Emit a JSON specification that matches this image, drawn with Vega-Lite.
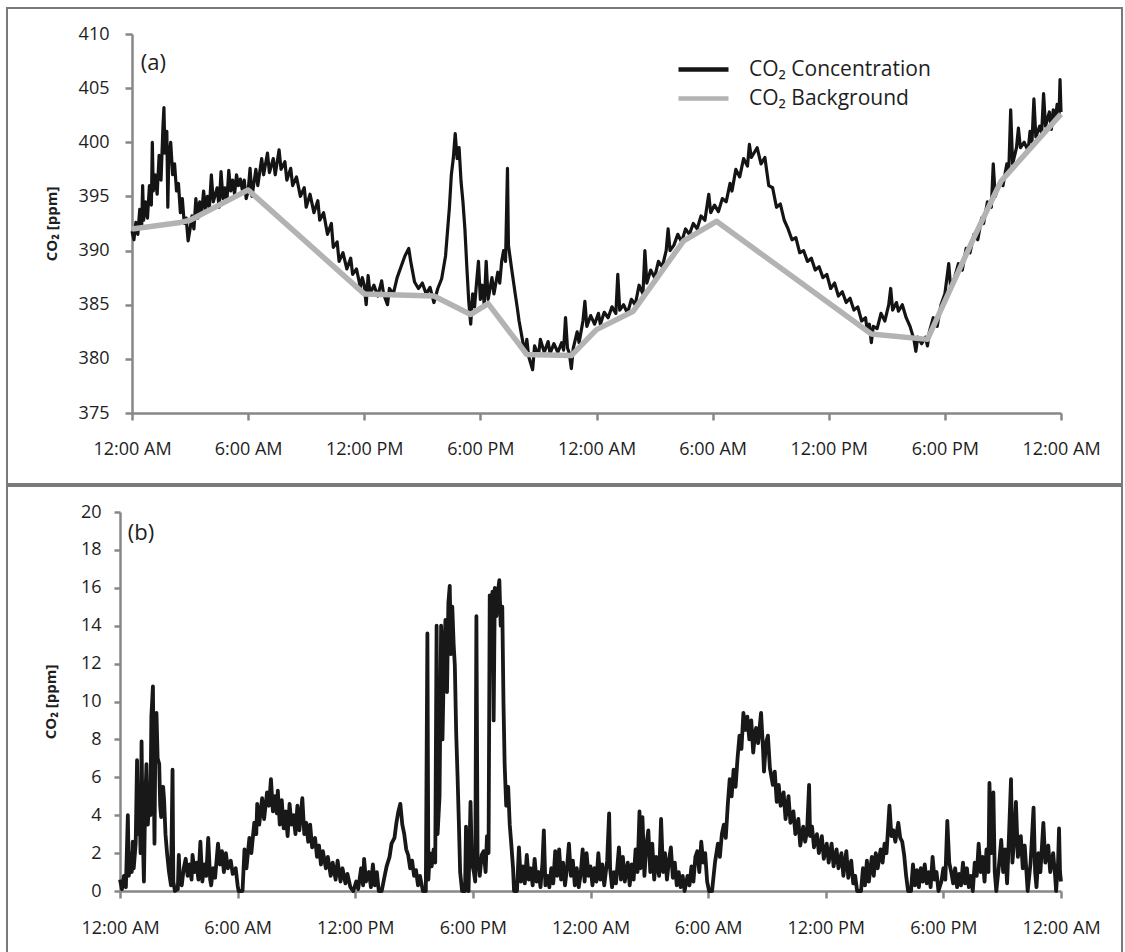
{
  "$schema": "https://vega.github.io/schema/vega-lite/v6.json",
  "padding": {"left": 6, "top": 7, "right": 0, "bottom": 0},
  "background": "white",
  "spacing": 0,
  "config": {
    "font": "Open Sans",
    "view": {"stroke": "#7a7a7a", "strokeWidth": 2},
    "axis": {"grid": false, "domainColor": "#878787", "domainWidth": 2.5, "tickColor": "#878787", "tickWidth": 2.5, "labelColor": "#1e1e1e", "labelFontSize": 18, "labelFont": "Open Sans", "titleFont": "Open Sans", "titleColor": "#1e1e1e", "labelFlush": false, "labelOverlap": false},
    "legend": {"padding": 0}
  },
  "datasets": {
    "conc": [
      {"h":0.0,"v":391.8},{"h":0.1,"v":391.0},{"h":0.2,"v":392.6},{"h":0.3,"v":391.5},{"h":0.4,"v":393.8},{"h":0.5,"v":392.2},{"h":0.55,"v":396.0},{"h":0.6,"v":392.8},{"h":0.7,"v":394.5},{"h":0.8,"v":393.0},{"h":0.9,"v":396.0},{"h":1.0,"v":394.2},{"h":1.05,"v":400.0},{"h":1.1,"v":395.5},{"h":1.2,"v":397.0},{"h":1.3,"v":395.2},{"h":1.4,"v":398.8},{"h":1.5,"v":396.5},{"h":1.6,"v":401.5},{"h":1.65,"v":403.2},{"h":1.7,"v":399.0},{"h":1.8,"v":401.0},{"h":1.85,"v":394.0},{"h":1.9,"v":398.5},{"h":2.0,"v":400.0},{"h":2.1,"v":397.0},{"h":2.2,"v":398.0},{"h":2.3,"v":395.5},{"h":2.4,"v":396.2},{"h":2.5,"v":393.5},{"h":2.6,"v":394.8},{"h":2.7,"v":392.5},{"h":2.8,"v":393.0},{"h":2.9,"v":390.9},{"h":3.0,"v":392.0},{"h":3.1,"v":393.2},{"h":3.2,"v":392.0},{"h":3.3,"v":394.8},{"h":3.4,"v":393.0},{"h":3.5,"v":394.5},{"h":3.6,"v":393.5},{"h":3.7,"v":395.5},{"h":3.8,"v":393.8},{"h":3.9,"v":395.0},{"h":4.0,"v":394.0},{"h":4.1,"v":397.0},{"h":4.2,"v":394.5},{"h":4.4,"v":395.8},{"h":4.5,"v":394.0},{"h":4.6,"v":397.3},{"h":4.7,"v":394.8},{"h":4.8,"v":395.8},{"h":4.9,"v":394.5},{"h":5.0,"v":397.4},{"h":5.1,"v":395.5},{"h":5.2,"v":396.5},{"h":5.3,"v":395.2},{"h":5.4,"v":397.0},{"h":5.5,"v":396.0},{"h":5.6,"v":396.6},{"h":5.7,"v":395.6},{"h":5.8,"v":396.5},{"h":5.9,"v":394.8},
      {"h":6.0,"v":395.5},{"h":6.1,"v":397.6},{"h":6.2,"v":395.0},{"h":6.4,"v":397.5},{"h":6.5,"v":396.0},{"h":6.7,"v":398.5},{"h":6.8,"v":397.0},{"h":7.0,"v":399.0},{"h":7.1,"v":397.2},{"h":7.3,"v":398.5},{"h":7.4,"v":397.0},{"h":7.6,"v":399.3},{"h":7.7,"v":397.5},{"h":7.9,"v":398.2},{"h":8.0,"v":396.5},{"h":8.2,"v":397.6},{"h":8.3,"v":396.0},{"h":8.5,"v":396.8},{"h":8.7,"v":395.0},{"h":8.9,"v":395.8},{"h":9.0,"v":394.0},{"h":9.2,"v":395.2},{"h":9.4,"v":393.5},{"h":9.6,"v":394.6},{"h":9.7,"v":392.8},{"h":9.9,"v":393.5},{"h":10.1,"v":391.5},{"h":10.3,"v":392.5},{"h":10.4,"v":390.3},{"h":10.6,"v":390.8},{"h":10.7,"v":389.0},{"h":10.9,"v":389.8},{"h":11.1,"v":388.3},{"h":11.3,"v":389.3},{"h":11.4,"v":387.8},{"h":11.6,"v":388.3},{"h":11.8,"v":386.6},{"h":11.9,"v":387.5},
      {"h":12.0,"v":386.8},{"h":12.1,"v":385.0},{"h":12.2,"v":387.7},{"h":12.3,"v":386.0},{"h":12.5,"v":386.8},{"h":12.7,"v":385.8},{"h":12.9,"v":387.2},{"h":13.0,"v":386.0},{"h":13.2,"v":385.0},{"h":13.3,"v":386.5},{"h":13.5,"v":386.0},{"h":13.7,"v":387.5},{"h":13.9,"v":388.5},{"h":14.1,"v":389.5},{"h":14.3,"v":390.2},{"h":14.4,"v":389.0},{"h":14.6,"v":387.1},{"h":14.8,"v":386.5},{"h":15.0,"v":387.0},{"h":15.2,"v":386.0},{"h":15.4,"v":386.6},{"h":15.6,"v":385.2},{"h":15.8,"v":386.5},{"h":16.0,"v":387.4},{"h":16.2,"v":389.5},{"h":16.4,"v":394.0},{"h":16.5,"v":397.0},{"h":16.6,"v":398.5},{"h":16.7,"v":400.8},{"h":16.8,"v":398.5},{"h":16.9,"v":399.5},{"h":17.0,"v":396.4},{"h":17.1,"v":394.5},{"h":17.2,"v":392.0},{"h":17.3,"v":388.5},{"h":17.4,"v":385.3},{"h":17.5,"v":383.2},{"h":17.6,"v":386.0},{"h":17.7,"v":384.8},{"h":17.8,"v":387.0},{"h":17.9,"v":389.0},{"h":18.0,"v":385.5},{"h":18.1,"v":386.8},{"h":18.2,"v":385.0},{"h":18.3,"v":389.0},{"h":18.4,"v":385.5},{"h":18.6,"v":387.5},{"h":18.7,"v":386.0},{"h":18.9,"v":388.0},{"h":19.0,"v":387.0},{"h":19.1,"v":389.0},{"h":19.2,"v":390.0},{"h":19.3,"v":389.0},{"h":19.4,"v":397.6},{"h":19.45,"v":390.5},{"h":19.6,"v":388.5},{"h":19.8,"v":386.0},{"h":19.9,"v":384.8},
      {"h":20.0,"v":383.5},{"h":20.2,"v":381.5},{"h":20.3,"v":380.5},{"h":20.4,"v":381.8},{"h":20.5,"v":380.2},{"h":20.7,"v":379.0},{"h":20.8,"v":381.2},{"h":21.0,"v":380.3},{"h":21.1,"v":381.8},{"h":21.3,"v":380.6},{"h":21.5,"v":381.6},{"h":21.6,"v":380.5},{"h":21.8,"v":381.4},{"h":22.0,"v":380.6},{"h":22.2,"v":381.5},{"h":22.3,"v":380.8},{"h":22.4,"v":383.8},{"h":22.5,"v":381.0},{"h":22.6,"v":380.5},{"h":22.7,"v":379.1},{"h":22.8,"v":381.0},{"h":23.0,"v":382.5},{"h":23.1,"v":381.5},{"h":23.3,"v":383.5},{"h":23.4,"v":385.3},{"h":23.5,"v":383.0},{"h":23.7,"v":384.0},{"h":23.9,"v":383.2},
      {"h":24.1,"v":384.2},{"h":24.2,"v":383.2},{"h":24.4,"v":384.3},{"h":24.6,"v":383.8},{"h":24.8,"v":384.8},{"h":25.0,"v":384.2},{"h":25.1,"v":387.8},{"h":25.2,"v":384.5},{"h":25.4,"v":385.0},{"h":25.6,"v":384.2},{"h":25.8,"v":385.5},{"h":26.0,"v":385.0},{"h":26.2,"v":386.8},{"h":26.4,"v":386.0},{"h":26.5,"v":390.0},{"h":26.6,"v":387.0},{"h":26.8,"v":388.2},{"h":27.0,"v":387.5},{"h":27.2,"v":389.0},{"h":27.4,"v":388.5},{"h":27.6,"v":390.0},{"h":27.7,"v":392.0},{"h":27.8,"v":390.0},{"h":28.0,"v":390.5},{"h":28.2,"v":391.5},{"h":28.4,"v":390.8},{"h":28.6,"v":392.0},{"h":28.8,"v":391.5},{"h":29.0,"v":392.5},{"h":29.2,"v":392.0},{"h":29.4,"v":393.2},{"h":29.6,"v":392.8},{"h":29.8,"v":395.2},{"h":29.9,"v":393.5},{"h":30.1,"v":394.2},{"h":30.3,"v":393.6},{"h":30.5,"v":394.8},{"h":30.7,"v":394.5},{"h":30.9,"v":396.2},{"h":31.0,"v":395.5},{"h":31.2,"v":397.5},{"h":31.4,"v":396.8},{"h":31.6,"v":398.5},{"h":31.8,"v":397.8},{"h":31.9,"v":399.8},
      {"h":32.0,"v":398.6},{"h":32.3,"v":399.5},{"h":32.5,"v":398.0},{"h":32.7,"v":398.6},{"h":32.9,"v":396.0},{"h":33.1,"v":395.8},{"h":33.3,"v":394.0},{"h":33.5,"v":394.3},{"h":33.7,"v":392.8},{"h":33.9,"v":392.0},{"h":34.1,"v":391.0},{"h":34.3,"v":391.2},{"h":34.5,"v":389.8},{"h":34.7,"v":390.0},{"h":34.9,"v":389.0},{"h":35.1,"v":389.3},{"h":35.3,"v":388.2},{"h":35.5,"v":388.5},{"h":35.7,"v":387.5},{"h":35.9,"v":387.8},{"h":36.1,"v":386.5},{"h":36.3,"v":387.0},{"h":36.5,"v":385.8},{"h":36.7,"v":386.2},{"h":36.9,"v":385.2},{"h":37.1,"v":385.6},{"h":37.3,"v":384.5},{"h":37.5,"v":384.8},{"h":37.7,"v":383.5},{"h":37.9,"v":383.8},{"h":38.0,"v":382.5},{"h":38.1,"v":383.2},{"h":38.2,"v":381.5},{"h":38.3,"v":383.0},{"h":38.5,"v":382.8},{"h":38.7,"v":384.2},{"h":38.9,"v":383.5},{"h":39.1,"v":385.0},{"h":39.2,"v":386.5},{"h":39.3,"v":384.5},{"h":39.5,"v":385.2},{"h":39.6,"v":384.4},{"h":39.8,"v":385.0},{"h":40.0,"v":383.8},{"h":40.2,"v":383.0},{"h":40.4,"v":381.8},{"h":40.5,"v":380.7},{"h":40.6,"v":382.0},{"h":40.8,"v":381.4},{"h":41.0,"v":382.0},{"h":41.1,"v":381.2},{"h":41.2,"v":382.5},{"h":41.4,"v":383.8},{"h":41.6,"v":383.0},{"h":41.8,"v":385.0},
      {"h":42.0,"v":386.0},{"h":42.2,"v":388.8},{"h":42.3,"v":386.5},{"h":42.5,"v":387.5},{"h":42.7,"v":388.8},{"h":42.9,"v":388.2},{"h":43.1,"v":390.2},{"h":43.3,"v":389.8},{"h":43.5,"v":391.5},{"h":43.7,"v":391.0},{"h":43.9,"v":393.0},{"h":44.0,"v":392.5},{"h":44.2,"v":394.5},{"h":44.4,"v":394.0},{"h":44.5,"v":398.0},{"h":44.6,"v":395.0},{"h":44.8,"v":396.2},{"h":45.0,"v":396.0},{"h":45.2,"v":398.0},{"h":45.3,"v":397.2},{"h":45.4,"v":403.0},{"h":45.5,"v":398.0},{"h":45.7,"v":399.5},{"h":45.8,"v":401.3},{"h":45.9,"v":399.5},{"h":46.1,"v":400.0},{"h":46.3,"v":399.2},{"h":46.4,"v":401.0},{"h":46.5,"v":400.0},{"h":46.6,"v":404.0},{"h":46.7,"v":400.5},{"h":46.9,"v":401.5},{"h":47.0,"v":400.8},{"h":47.1,"v":404.5},{"h":47.2,"v":401.5},{"h":47.4,"v":402.8},{"h":47.5,"v":401.2},{"h":47.6,"v":403.0},{"h":47.7,"v":402.0},{"h":47.8,"v":403.5},{"h":47.9,"v":402.5},{"h":47.95,"v":405.8},{"h":48.0,"v":402.8}
    ],
    "bg": [
      {"h":0,"v":392.0},{"h":2.5,"v":392.6},{"h":3.0,"v":392.8},{"h":6.0,"v":395.6},{"h":12.0,"v":386.0},{"h":15.6,"v":385.8},{"h":17.5,"v":384.1},{"h":18.4,"v":385.1},{"h":20.4,"v":380.4},{"h":22.7,"v":380.3},{"h":24.0,"v":382.7},{"h":25.9,"v":384.4},{"h":28.5,"v":390.9},{"h":30.2,"v":392.7},{"h":38.2,"v":382.3},{"h":41.1,"v":381.8},{"h":43.5,"v":391.2},{"h":44.9,"v":396.4},{"h":48.0,"v":402.6}
    ],
    "diff": [
      {"h":0.0,"v":0.6},{"h":0.1,"v":0.1},{"h":0.2,"v":0.8},{"h":0.3,"v":0.2},{"h":0.4,"v":4.0},{"h":0.45,"v":0.8},{"h":0.55,"v":2.0},{"h":0.6,"v":1.0},{"h":0.65,"v":2.6},{"h":0.7,"v":1.2},{"h":0.8,"v":2.5},{"h":0.87,"v":6.9},{"h":0.92,"v":3.0},{"h":1.0,"v":4.2},{"h":1.05,"v":2.0},{"h":1.1,"v":7.9},{"h":1.15,"v":3.5},{"h":1.22,"v":0.5},{"h":1.28,"v":4.5},{"h":1.35,"v":6.7},{"h":1.42,"v":3.5},{"h":1.5,"v":5.0},{"h":1.55,"v":4.0},{"h":1.6,"v":9.2},{"h":1.68,"v":10.8},{"h":1.72,"v":6.0},{"h":1.76,"v":2.5},{"h":1.8,"v":7.5},{"h":1.86,"v":9.4},{"h":1.92,"v":7.0},{"h":2.0,"v":6.7},{"h":2.05,"v":4.5},{"h":2.1,"v":3.9},{"h":2.2,"v":5.5},{"h":2.25,"v":4.8},{"h":2.32,"v":3.0},{"h":2.4,"v":2.0},{"h":2.5,"v":1.0},{"h":2.6,"v":0.3},{"h":2.68,"v":6.4},{"h":2.72,"v":0.5},{"h":2.8,"v":0.0},{"h":2.95,"v":0.1},{"h":3.0,"v":1.9},{"h":3.05,"v":0.5},{"h":3.15,"v":0.3},{"h":3.25,"v":1.2},{"h":3.35,"v":1.7},{"h":3.45,"v":0.8},{"h":3.55,"v":1.4},{"h":3.65,"v":0.6},{"h":3.7,"v":1.9},{"h":3.8,"v":1.0},{"h":3.9,"v":1.5},{"h":4.0,"v":0.6},{"h":4.1,"v":2.6},{"h":4.2,"v":0.5},{"h":4.3,"v":1.4},{"h":4.4,"v":0.8},{"h":4.5,"v":2.8},{"h":4.6,"v":0.6},{"h":4.65,"v":0.3},{"h":4.75,"v":1.2},{"h":4.85,"v":0.7},{"h":5.0,"v":2.5},{"h":5.1,"v":1.4},{"h":5.2,"v":2.1},{"h":5.3,"v":1.0},{"h":5.4,"v":2.0},{"h":5.5,"v":1.2},{"h":5.65,"v":1.6},{"h":5.75,"v":0.9},{"h":5.9,"v":1.2},{"h":6.0,"v":0.3},{"h":6.05,"v":0.0},{"h":6.25,"v":0.0},{"h":6.35,"v":2.2},{"h":6.45,"v":1.2},{"h":6.6,"v":2.8},{"h":6.7,"v":2.0},{"h":6.85,"v":3.6},{"h":6.95,"v":3.0},{"h":7.0,"v":4.6},{"h":7.1,"v":3.5},{"h":7.25,"v":4.9},{"h":7.35,"v":3.8},{"h":7.5,"v":5.2},{"h":7.6,"v":4.5},{"h":7.7,"v":5.9},{"h":7.8,"v":4.2},{"h":7.9,"v":5.0},{"h":8.0,"v":4.1},{"h":8.05,"v":5.3},{"h":8.15,"v":3.5},{"h":8.25,"v":4.8},{"h":8.35,"v":3.3},{"h":8.45,"v":4.2},{"h":8.55,"v":2.9},{"h":8.65,"v":4.6},{"h":8.75,"v":3.5},{"h":8.85,"v":4.0},{"h":8.95,"v":3.0},{"h":9.05,"v":4.5},{"h":9.15,"v":3.2},{"h":9.3,"v":4.9},{"h":9.4,"v":3.0},{"h":9.5,"v":3.6},{"h":9.6,"v":2.6},{"h":9.7,"v":3.5},{"h":9.8,"v":2.3},{"h":9.95,"v":2.8},{"h":10.05,"v":1.8},{"h":10.15,"v":2.4},{"h":10.25,"v":1.4},{"h":10.35,"v":2.1},{"h":10.5,"v":1.2},{"h":10.6,"v":1.8},{"h":10.75,"v":0.8},{"h":10.85,"v":1.5},{"h":11.0,"v":0.6},{"h":11.1,"v":1.6},{"h":11.25,"v":0.5},{"h":11.35,"v":1.2},{"h":11.5,"v":0.4},{"h":11.6,"v":0.9},{"h":11.75,"v":0.2},{"h":11.9,"v":0.0},
      {"h":12.05,"v":0.5},{"h":12.15,"v":0.1},{"h":12.3,"v":1.2},{"h":12.4,"v":0.3},{"h":12.45,"v":1.7},{"h":12.55,"v":0.5},{"h":12.7,"v":1.0},{"h":12.8,"v":0.2},{"h":12.9,"v":1.4},{"h":13.0,"v":0.3},{"h":13.1,"v":1.0},{"h":13.2,"v":0.0},{"h":13.35,"v":0.0},{"h":13.5,"v":0.8},{"h":13.6,"v":1.3},{"h":13.75,"v":1.8},{"h":13.85,"v":2.5},{"h":14.0,"v":2.8},{"h":14.1,"v":3.6},{"h":14.2,"v":4.2},{"h":14.3,"v":4.6},{"h":14.4,"v":3.5},{"h":14.5,"v":3.0},{"h":14.6,"v":2.2},{"h":14.7,"v":1.9},{"h":14.8,"v":1.2},{"h":14.9,"v":1.6},{"h":15.0,"v":0.8},{"h":15.1,"v":1.1},{"h":15.2,"v":0.3},{"h":15.3,"v":0.8},{"h":15.45,"v":0.0},{"h":15.6,"v":0.0},{"h":15.68,"v":13.6},{"h":15.73,"v":0.6},{"h":15.8,"v":2.0},{"h":15.9,"v":1.3},{"h":16.0,"v":2.2},{"h":16.08,"v":1.5},{"h":16.15,"v":14.0},{"h":16.2,"v":3.0},{"h":16.3,"v":5.0},{"h":16.38,"v":14.0},{"h":16.45,"v":8.0},{"h":16.52,"v":12.0},{"h":16.6,"v":14.3},{"h":16.68,"v":10.5},{"h":16.75,"v":15.2},{"h":16.82,"v":16.1},{"h":16.88,"v":12.5},{"h":16.95,"v":15.0},{"h":17.02,"v":13.0},{"h":17.08,"v":11.9},{"h":17.15,"v":8.3},{"h":17.22,"v":6.0},{"h":17.28,"v":3.8},{"h":17.35,"v":1.0},{"h":17.45,"v":0.0},{"h":17.6,"v":0.0},{"h":17.65,"v":3.4},{"h":17.7,"v":0.2},{"h":17.78,"v":0.0},{"h":17.88,"v":4.7},{"h":17.95,"v":1.5},{"h":18.05,"v":1.0},{"h":18.12,"v":0.5},{"h":18.18,"v":14.5},{"h":18.24,"v":1.8},{"h":18.35,"v":0.8},{"h":18.45,"v":1.9},{"h":18.55,"v":2.1},{"h":18.65,"v":1.0},{"h":18.72,"v":2.9},{"h":18.8,"v":2.0},{"h":18.86,"v":15.6},{"h":18.92,"v":13.0},{"h":19.0,"v":15.8},{"h":19.06,"v":9.0},{"h":19.12,"v":16.0},{"h":19.2,"v":14.5},{"h":19.28,"v":15.8},{"h":19.35,"v":16.4},{"h":19.42,"v":14.0},{"h":19.5,"v":15.0},{"h":19.56,"v":10.0},{"h":19.62,"v":6.7},{"h":19.7,"v":4.5},{"h":19.8,"v":5.5},{"h":19.88,"v":3.5},{"h":19.95,"v":2.6},{"h":20.05,"v":1.2},{"h":20.1,"v":0.0},{"h":20.25,"v":0.0},{"h":20.35,"v":2.3},{"h":20.45,"v":0.5},{"h":20.55,"v":1.3},{"h":20.65,"v":0.4},{"h":20.75,"v":1.9},{"h":20.85,"v":0.6},{"h":20.95,"v":1.2},{"h":21.05,"v":0.3},{"h":21.15,"v":1.7},{"h":21.25,"v":0.5},{"h":21.35,"v":1.0},{"h":21.45,"v":0.2},{"h":21.55,"v":1.5},{"h":21.62,"v":3.2},{"h":21.7,"v":0.3},{"h":21.8,"v":0.8},{"h":21.9,"v":0.2},{"h":22.0,"v":1.2},{"h":22.1,"v":0.4},{"h":22.2,"v":2.1},{"h":22.3,"v":0.8},{"h":22.4,"v":2.2},{"h":22.5,"v":0.6},{"h":22.6,"v":1.5},{"h":22.7,"v":0.3},{"h":22.8,"v":1.2},{"h":22.9,"v":2.5},{"h":23.0,"v":0.8},{"h":23.1,"v":1.6},{"h":23.2,"v":0.3},{"h":23.3,"v":1.2},{"h":23.4,"v":0.2},{"h":23.5,"v":0.9},{"h":23.6,"v":2.2},{"h":23.7,"v":0.5},{"h":23.8,"v":2.0},{"h":23.9,"v":0.8},
      {"h":24.0,"v":1.3},{"h":24.1,"v":0.3},{"h":24.2,"v":1.2},{"h":24.3,"v":0.5},{"h":24.4,"v":2.0},{"h":24.5,"v":0.6},{"h":24.6,"v":1.4},{"h":24.7,"v":0.3},{"h":24.85,"v":1.6},{"h":24.95,"v":4.1},{"h":25.0,"v":1.2},{"h":25.1,"v":0.2},{"h":25.2,"v":1.0},{"h":25.3,"v":0.4},{"h":25.45,"v":2.3},{"h":25.55,"v":0.6},{"h":25.65,"v":1.8},{"h":25.75,"v":0.5},{"h":25.9,"v":1.5},{"h":26.0,"v":0.3},{"h":26.1,"v":1.4},{"h":26.2,"v":0.6},{"h":26.3,"v":2.2},{"h":26.4,"v":1.0},{"h":26.5,"v":4.2},{"h":26.55,"v":1.2},{"h":26.65,"v":3.9},{"h":26.75,"v":0.8},{"h":26.85,"v":2.4},{"h":26.95,"v":3.2},{"h":27.05,"v":1.0},{"h":27.15,"v":2.5},{"h":27.25,"v":0.6},{"h":27.35,"v":1.8},{"h":27.5,"v":0.8},{"h":27.6,"v":3.8},{"h":27.7,"v":1.0},{"h":27.8,"v":2.0},{"h":27.9,"v":0.6},{"h":28.0,"v":1.6},{"h":28.1,"v":2.3},{"h":28.2,"v":0.7},{"h":28.3,"v":1.5},{"h":28.4,"v":0.3},{"h":28.5,"v":1.0},{"h":28.6,"v":0.2},{"h":28.7,"v":0.8},{"h":28.8,"v":0.0},{"h":28.95,"v":0.8},{"h":29.05,"v":0.3},{"h":29.15,"v":1.3},{"h":29.25,"v":0.5},{"h":29.35,"v":1.8},{"h":29.45,"v":2.1},{"h":29.55,"v":1.0},{"h":29.65,"v":2.6},{"h":29.75,"v":1.5},{"h":29.85,"v":2.0},{"h":29.95,"v":0.5},{"h":30.05,"v":0.0},{"h":30.2,"v":0.0},{"h":30.35,"v":1.5},{"h":30.5,"v":2.5},{"h":30.6,"v":1.8},{"h":30.7,"v":3.0},{"h":30.8,"v":3.5},{"h":30.9,"v":2.8},{"h":31.0,"v":4.5},{"h":31.1,"v":5.9},{"h":31.2,"v":5.0},{"h":31.3,"v":6.4},{"h":31.4,"v":5.5},{"h":31.5,"v":7.0},{"h":31.6,"v":8.2},{"h":31.7,"v":7.5},{"h":31.8,"v":9.4},{"h":31.9,"v":8.5},{"h":32.0,"v":9.2},{"h":32.1,"v":8.0},{"h":32.2,"v":9.0},{"h":32.3,"v":7.3},{"h":32.4,"v":8.4},{"h":32.45,"v":8.6},{"h":32.55,"v":7.8},{"h":32.7,"v":9.4},{"h":32.8,"v":7.5},{"h":32.85,"v":6.3},{"h":32.95,"v":7.8},{"h":33.05,"v":8.2},{"h":33.15,"v":6.5},{"h":33.3,"v":5.6},{"h":33.4,"v":6.3},{"h":33.5,"v":4.7},{"h":33.6,"v":5.6},{"h":33.7,"v":4.5},{"h":33.85,"v":5.2},{"h":33.95,"v":3.8},{"h":34.1,"v":5.0},{"h":34.2,"v":3.6},{"h":34.35,"v":4.2},{"h":34.45,"v":3.0},{"h":34.6,"v":3.8},{"h":34.7,"v":2.4},{"h":34.85,"v":3.4},{"h":34.95,"v":2.6},{"h":35.05,"v":3.2},{"h":35.15,"v":5.6},{"h":35.2,"v":2.9},{"h":35.3,"v":3.4},{"h":35.4,"v":2.3},{"h":35.55,"v":3.0},{"h":35.65,"v":2.0},{"h":35.8,"v":2.9},{"h":35.9,"v":1.7},
      {"h":36.05,"v":2.5},{"h":36.15,"v":1.5},{"h":36.3,"v":2.5},{"h":36.4,"v":1.3},{"h":36.55,"v":2.2},{"h":36.65,"v":1.2},{"h":36.8,"v":2.0},{"h":36.9,"v":0.8},{"h":37.05,"v":2.1},{"h":37.15,"v":0.7},{"h":37.3,"v":1.6},{"h":37.4,"v":0.4},{"h":37.5,"v":0.8},{"h":37.6,"v":0.0},{"h":37.8,"v":0.0},{"h":37.9,"v":1.2},{"h":38.0,"v":0.3},{"h":38.1,"v":1.6},{"h":38.2,"v":0.5},{"h":38.35,"v":1.8},{"h":38.45,"v":0.8},{"h":38.55,"v":2.0},{"h":38.65,"v":1.2},{"h":38.8,"v":2.2},{"h":38.9,"v":1.5},{"h":39.0,"v":2.5},{"h":39.1,"v":2.0},{"h":39.25,"v":4.5},{"h":39.35,"v":2.9},{"h":39.45,"v":3.2},{"h":39.55,"v":2.6},{"h":39.7,"v":3.6},{"h":39.8,"v":2.8},{"h":39.9,"v":2.6},{"h":40.0,"v":1.9},{"h":40.1,"v":0.8},{"h":40.2,"v":0.0},{"h":40.35,"v":0.0},{"h":40.45,"v":1.4},{"h":40.55,"v":0.3},{"h":40.65,"v":1.1},{"h":40.75,"v":0.2},{"h":40.85,"v":1.2},{"h":40.95,"v":0.5},{"h":41.05,"v":1.4},{"h":41.15,"v":0.4},{"h":41.25,"v":1.0},{"h":41.35,"v":0.2},{"h":41.45,"v":1.8},{"h":41.55,"v":0.6},{"h":41.65,"v":1.0},{"h":41.75,"v":0.0},{"h":41.9,"v":0.5},{"h":42.0,"v":1.2},{"h":42.1,"v":0.6},{"h":42.2,"v":3.7},{"h":42.3,"v":1.5},{"h":42.4,"v":1.0},{"h":42.5,"v":0.4},{"h":42.6,"v":1.2},{"h":42.7,"v":0.2},{"h":42.8,"v":0.9},{"h":42.9,"v":0.3},{"h":43.0,"v":1.5},{"h":43.1,"v":0.4},{"h":43.2,"v":1.2},{"h":43.3,"v":0.2},{"h":43.4,"v":0.8},{"h":43.5,"v":0.0},{"h":43.6,"v":1.5},{"h":43.7,"v":0.8},{"h":43.8,"v":2.5},{"h":43.9,"v":1.0},{"h":44.0,"v":1.8},{"h":44.1,"v":0.5},{"h":44.2,"v":2.2},{"h":44.3,"v":1.0},{"h":44.35,"v":5.7},{"h":44.45,"v":2.0},{"h":44.55,"v":5.2},{"h":44.62,"v":1.0},{"h":44.7,"v":0.0},{"h":44.85,"v":1.5},{"h":44.95,"v":2.7},{"h":45.05,"v":1.0},{"h":45.15,"v":2.2},{"h":45.25,"v":0.4},{"h":45.35,"v":3.0},{"h":45.45,"v":5.9},{"h":45.52,"v":1.5},{"h":45.6,"v":2.5},{"h":45.7,"v":4.7},{"h":45.8,"v":1.8},{"h":45.95,"v":2.9},{"h":46.05,"v":1.2},{"h":46.15,"v":2.4},{"h":46.3,"v":0.0},{"h":46.45,"v":1.5},{"h":46.6,"v":4.4},{"h":46.68,"v":1.0},{"h":46.75,"v":0.2},{"h":46.85,"v":2.0},{"h":46.95,"v":1.0},{"h":47.1,"v":3.6},{"h":47.2,"v":1.5},{"h":47.35,"v":2.4},{"h":47.45,"v":1.0},{"h":47.6,"v":2.0},{"h":47.7,"v":0.8},{"h":47.75,"v":0.0},{"h":47.85,"v":1.5},{"h":47.9,"v":3.3},{"h":47.95,"v":1.0},{"h":48.0,"v":0.5}
    ]
  },
  "vconcat": [
    {
      "width": 1115,
      "height": 476,
      "encoding": {
        "x": {"field": "h", "type": "quantitative", "scale": {"domain": [0, 48], "range": [125, 1054], "nice": false},
          "axis": {"values": [0, 6, 12, 18, 24, 30, 36, 42, 48], "labelExpr": "['12:00 AM','6:00 AM','12:00 PM','6:00 PM'][(datum.value / 6) % 4]", "offset": -71, "tickSize": 7, "labelPadding": 20, "title": null}},
        "y": {"field": "v", "type": "quantitative", "scale": {"domain": [375, 410], "range": [405, 26], "zero": false, "nice": false},
          "axis": {"values": [375, 380, 385, 390, 395, 400, 405, 410], "offset": -125, "tickSize": 7, "labelPadding": 16, "title": "CO₂ [ppm]", "titleFontSize": 15, "titleFontWeight": "bold", "titlePadding": 19}}
      },
      "layer": [
        {
          "data": {"name": "conc"},
          "mark": {"type": "line", "strokeWidth": 3.2, "strokeJoin": "round"},
          "encoding": {
            "color": {"datum": "CO₂ Concentration", "type": "nominal",
              "scale": {"domain": ["CO₂ Concentration", "CO₂ Background"], "range": ["#141414", "#b3b3b3"]},
              "legend": {"orient": "none", "legendX": 669, "legendY": 47, "title": null, "symbolType": "stroke", "symbolSize": 2500, "symbolStrokeWidth": 4.5, "labelFontSize": 21, "labelColor": "#1e1e1e", "labelOffset": 18, "labelLimit": 400, "clipHeight": 29, "rowPadding": 0}}
          }
        },
        {
          "data": {"name": "bg"},
          "mark": {"type": "line", "strokeWidth": 5.5, "strokeJoin": "round"},
          "encoding": {
            "color": {"datum": "CO₂ Background", "type": "nominal"}
          }
        },
        {
          "data": {"values": [{"h": 0.45, "v": 407.3, "t": "(a)"}]},
          "mark": {"type": "text", "align": "left", "baseline": "middle", "fontSize": 22, "color": "#1e1e1e"},
          "encoding": {"text": {"field": "t"}}
        }
      ]
    },
    {
      "width": 1115,
      "height": 467,
      "encoding": {
        "x": {"field": "h", "type": "quantitative", "scale": {"domain": [0, 48], "range": [113, 1054], "nice": false},
          "axis": {"values": [0, 6, 12, 18, 24, 30, 36, 42, 48], "labelExpr": "['12:00 AM','6:00 AM','12:00 PM','6:00 PM'][(datum.value / 6) % 4]", "offset": -62, "tickSize": 7, "labelPadding": 21, "title": null}},
        "y": {"field": "v", "type": "quantitative", "scale": {"domain": [0, 20], "range": [405, 26], "nice": false},
          "axis": {"values": [0, 2, 4, 6, 8, 10, 12, 14, 16, 18, 20], "offset": -113, "tickSize": 6, "labelPadding": 13, "title": "CO₂ [ppm]", "titleFontSize": 15, "titleFontWeight": "bold", "titlePadding": 22}}
      },
      "layer": [
        {
          "data": {"name": "diff"},
          "mark": {"type": "line", "strokeWidth": 3.8, "strokeJoin": "round", "color": "#181818"}
        },
        {
          "data": {"values": [{"h": 0.4, "v": 18.9, "t": "(b)"}]},
          "mark": {"type": "text", "align": "left", "baseline": "middle", "fontSize": 22, "color": "#1e1e1e"},
          "encoding": {"text": {"field": "t"}}
        }
      ]
    }
  ]
}
